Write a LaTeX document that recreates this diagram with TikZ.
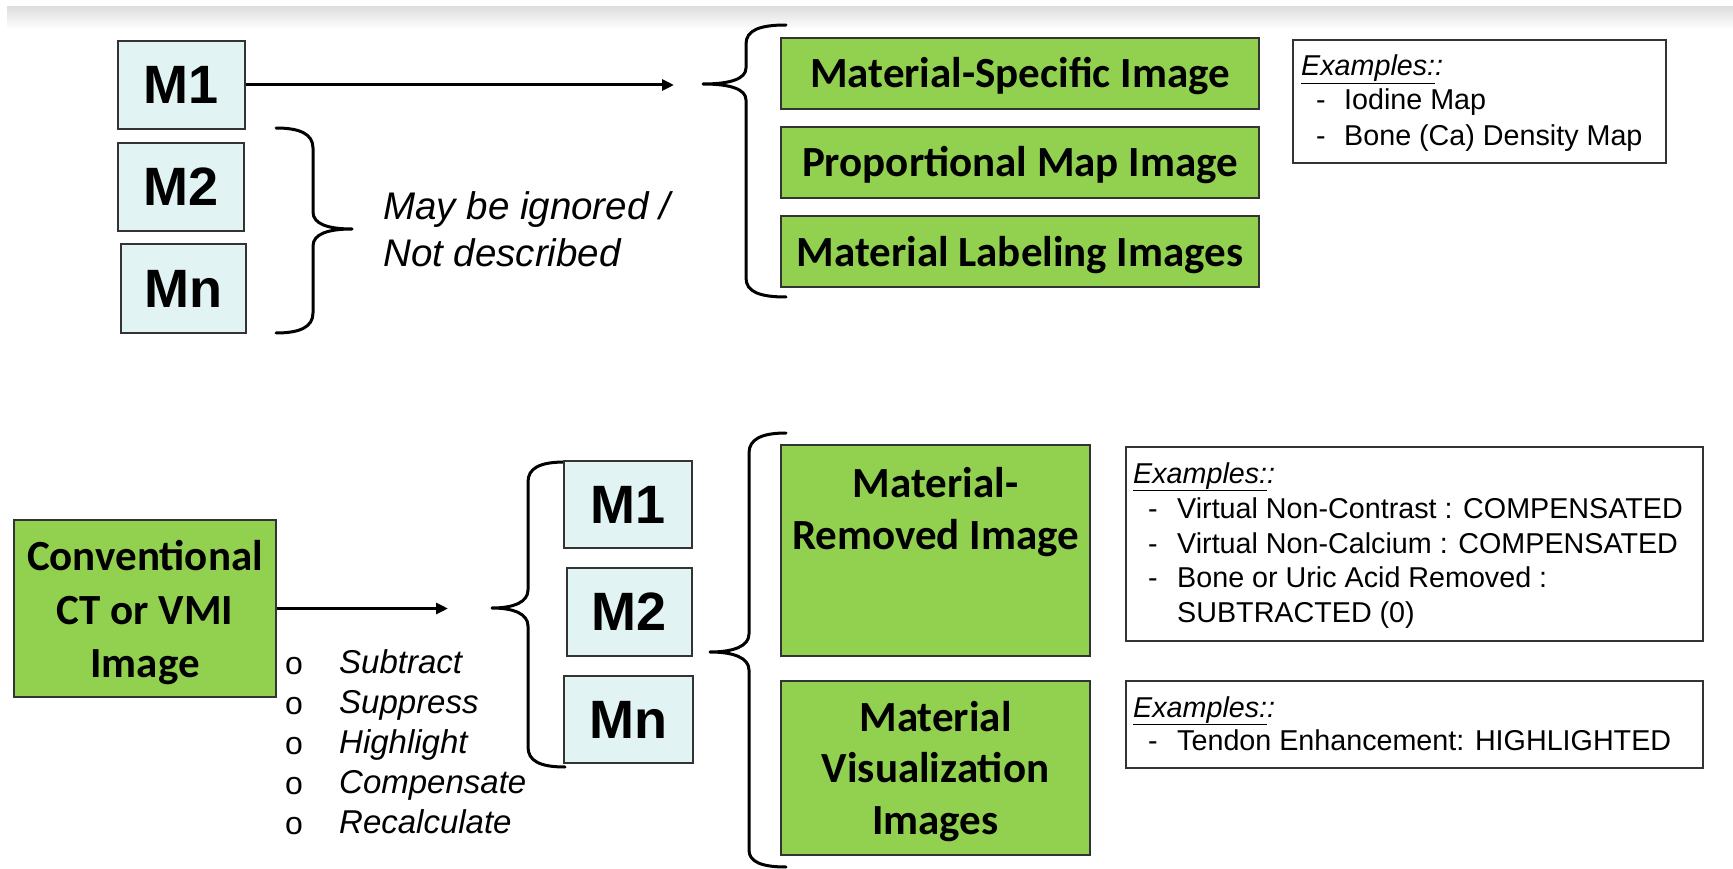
\documentclass[tikz,border=0pt]{standalone}
\usepackage{fontspec}
\setmainfont{Liberation Sans}
\newfontfamily\calb{Carlito}
\usetikzlibrary{arrows.meta}
\definecolor{mgreen}{HTML}{92D050}
\definecolor{mcyan}{HTML}{E2F3F3}
\definecolor{mframe}{HTML}{333333}
\begin{document}
\begin{tikzpicture}[x=1pt,y=-1pt,
  mbox/.style={draw=mframe, line width=1.5pt, fill=mcyan, inner sep=0pt,
    font=\fontsize{54}{60}\selectfont\bfseries},
  gbox/.style={draw=mframe, line width=1.5pt, fill=mgreen, inner sep=0pt},
  gtext/.style={anchor=base, inner sep=0pt, font=\calb\bfseries\fontsize{43}{53}\selectfont},
  exbox/.style={draw=mframe, line width=1.5pt, fill=white, inner sep=0pt},
  extext/.style={anchor=base west, inner sep=0pt, font=\fontsize{28.7}{32}\selectfont},
  note/.style={anchor=base west, inner sep=0pt, font=\fontsize{38.5}{44}\selectfont\itshape},
  opt/.style={anchor=base west, inner sep=0pt, font=\fontsize{33}{40}\selectfont\itshape},
  bul/.style={anchor=base west, inner sep=0pt, font=\fontsize{32}{36}\selectfont},
  arr/.style={line width=3pt, -{Triangle[length=12pt,width=11pt]}},
  bracestyle/.style={line width=3pt, line cap=round, line join=round}]
\useasboundingbox (0,0) rectangle (1733,869);
\fill[white] (0,0) rectangle (1733,869);
\shade[top color=black!13, bottom color=white] (7,7) rectangle (1733,29);

% ---------- top section ----------
\node[mbox, minimum width=127pt, minimum height=88pt] (tm1) at (181.5,85) {M1};
\node[mbox, minimum width=126pt, minimum height=88pt] (tm2) at (181,187) {M2};
\node[mbox, minimum width=125pt, minimum height=89pt] (tmn) at (183.5,288.5) {Mn};

\draw[bracestyle] (276,128) .. controls (300,128) and (313,134) .. (313,148) -- (313,212)
  .. controls (313,224) and (328,229) .. (352,229)
  .. controls (328,229) and (313,234) .. (313,246) -- (313,313)
  .. controls (313,327) and (300,333) .. (276,333);

\node[note] (ign1) at (383,220) {May be ignored /};
\node[note] (ign2) at (383,267) {Not described};

\coordinate (ttip) at (674,85);
\draw[arr] (tm1.east) -- (ttip);

\draw[bracestyle] (786,25) .. controls (760,25) and (746,30) .. (746,44) -- (746,68)
  .. controls (746,79) and (730,84) .. (703,84)
  .. controls (730,84) and (746,89) .. (746,100) -- (746,278)
  .. controls (746,292) and (760,297) .. (786,297);

\node[gbox, minimum width=478pt, minimum height=71pt] (msi) at (1020,73.5) {};
\node[gtext] (msit) at (1020,88) {Material-Specific Image};
\node[gbox, minimum width=478pt, minimum height=71pt] (pmi) at (1020,162.5) {};
\node[gtext] (pmit) at (1020,177) {Proportional Map Image};
\node[gbox, minimum width=478pt, minimum height=71pt] (mli) at (1020,251.5) {};
\node[gtext] (mlit) at (1020,266) {Material Labeling Images};

\node[exbox, minimum width=373pt, minimum height=123pt] (ex1) at (1479.5,101.5) {};
\node[extext] (ex1h) at (1301,76) {\itshape\underline{Examples:}:};
\node[extext] (ex1d1) at (1316,110) {-};
\node[extext] (ex1t1) at (1344,110) {Iodine Map};
\node[extext] (ex1d2) at (1316,146) {-};
\node[extext] (ex1t2) at (1344,146) {Bone (Ca) Density Map};

% ---------- bottom section ----------
\node[gbox, minimum width=262pt, minimum height=177pt] (conv) at (145,608.5) {};
\node[gtext] (conv1) at (145,570) {Conventional};
\node[gtext] (conv2) at (145,624) {CT or VMI};
\node[gtext] (conv3) at (145,677) {Image};

\coordinate (btip) at (448,608.5);
\draw[arr] (conv.east) -- (btip);

\node[bul] (b1) at (285,674) {o};
\node[bul] (b2) at (285,714) {o};
\node[bul] (b3) at (285,754) {o};
\node[bul] (b4) at (285,794) {o};
\node[bul] (b5) at (285,834) {o};
\node[opt] (o1) at (339,673) {Subtract};
\node[opt] (o2) at (339,713) {Suppress};
\node[opt] (o3) at (339,753) {Highlight};
\node[opt] (o4) at (339,793) {Compensate};
\node[opt] (o5) at (339,833) {Recalculate};

\draw[bracestyle] (565,462) .. controls (540,462) and (528,468) .. (528,482) -- (528,590)
  .. controls (528,602) and (514,608) .. (492,608)
  .. controls (514,608) and (528,614) .. (528,626) -- (528,747)
  .. controls (528,761) and (540,767) .. (565,767);

\node[mbox, minimum width=128pt, minimum height=87pt] (bm1) at (628,504.5) {M1};
\node[mbox, minimum width=125pt, minimum height=88pt] (bm2) at (629.5,612) {M2};
\node[mbox, minimum width=129pt, minimum height=87pt] (bmn) at (628.5,719.5) {Mn};

\draw[bracestyle] (786,433) .. controls (762,433) and (749,439) .. (749,453) -- (749,634)
  .. controls (749,646) and (734,652) .. (710,652)
  .. controls (734,652) and (749,658) .. (749,670) -- (749,850)
  .. controls (749,862) and (762,867) .. (786,867);

\node[gbox, minimum width=309pt, minimum height=211pt] (mri) at (935.5,550.5) {};
\node[gtext] (mri1) at (935.5,497) {Material-};
\node[gtext] (mri2) at (935.5,549) {Removed Image};

\node[gbox, minimum width=309pt, minimum height=174pt] (mvi) at (935.5,768) {};
\node[gtext] (mvi1) at (935.5,731) {Material};
\node[gtext] (mvi2) at (935.5,782) {Visualization};
\node[gtext] (mvi3) at (935.5,834) {Images};

\node[exbox, minimum width=577pt, minimum height=194pt] (ex2) at (1414.5,544) {};
\node[extext] (ex2h) at (1133,483) {\itshape\underline{Examples:}:};
\node[extext] (ex2d1) at (1148,518) {-};
\node[extext] (ex2t1) at (1177,518) {Virtual Non-Contrast : COMPENSATED};
\node[extext] (ex2d2) at (1148,553) {-};
\node[extext] (ex2t2) at (1177,553) {Virtual Non-Calcium : COMPENSATED};
\node[extext] (ex2d3) at (1148,587) {-};
\node[extext] (ex2t3) at (1177,587) {Bone or Uric Acid Removed :};
\node[extext] (ex2t4) at (1177,622) {SUBTRACTED (0)};

\node[exbox, minimum width=577pt, minimum height=87pt] (ex3) at (1414.5,724.5) {};
\node[extext] (ex3h) at (1133,717) {\itshape\underline{Examples:}:};
\node[extext] (ex3d1) at (1148,750) {-};
\node[extext] (ex3t1) at (1177,750) {Tendon Enhancement: HIGHLIGHTED};
\end{tikzpicture}
\end{document}
